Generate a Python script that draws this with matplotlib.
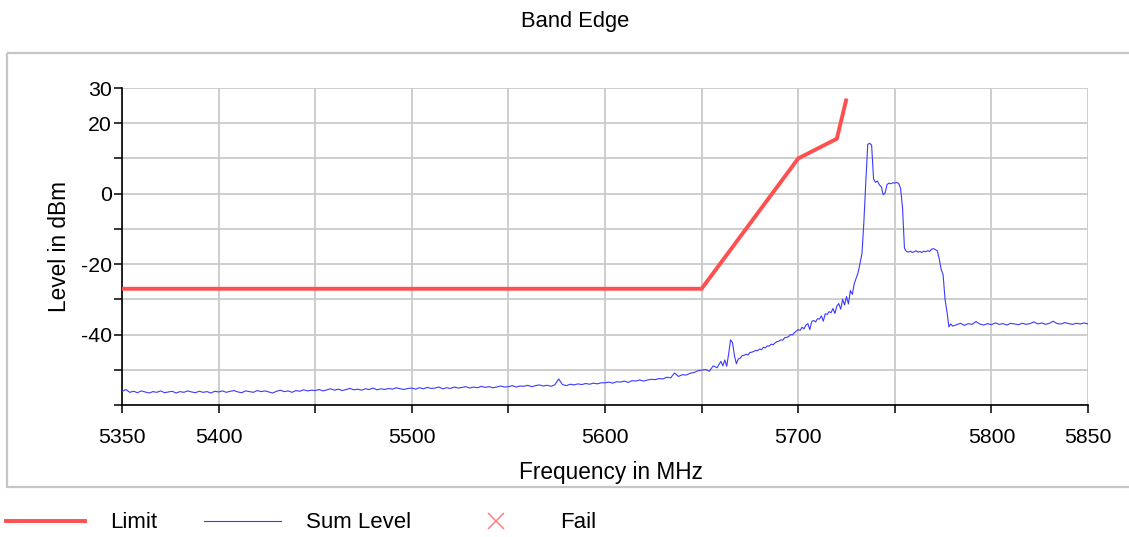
import numpy as np
import matplotlib
matplotlib.use('Agg')
import matplotlib.pyplot as plt
from matplotlib.patches import Rectangle
from matplotlib.lines import Line2D
from matplotlib.ticker import FixedLocator, FixedFormatter

plt.rcParams['font.family'] = ['Liberation Sans', 'DejaVu Sans']
plt.rcParams['axes.unicode_minus'] = False

# ---------------- data ----------------
limit_freq = [5350, 5650, 5700, 5720, 5725]
limit_level = [-27, -27, 10, 15.6, 27]

# measured sweep (frequency grid of the analyser, MHz)
freq_a = np.arange(5350, 5600, 2)      # 125 points
level_a = [
    -56.2, -55.6, -56.4, -56.1, -56.5, -56.0, -56.3, -56.6, -56.2, -56.4,
    -56.0, -56.5, -56.3, -56.1, -56.6, -56.2, -56.4, -56.0, -56.3, -56.5,
    -56.1, -56.4, -56.2, -56.6, -56.1,
    -56.3, -56.0, -56.4, -56.1, -55.9, -56.3, -56.5, -56.0, -56.2, -56.4,
    -55.9, -56.2, -56.0, -56.3, -56.6, -56.1, -55.8, -56.2, -56.0, -56.4,
    -55.9, -56.1, -55.7, -56.0, -55.8,
    -55.9, -55.6, -56.0, -55.7, -55.4, -55.8, -55.5, -55.9, -55.6, -55.3,
    -55.7, -55.5, -55.8, -55.4, -55.6, -55.2, -55.7, -55.4, -55.6, -55.3,
    -55.5, -55.1, -55.4, -55.6, -55.3,
    -55.2, -55.5, -55.1, -55.4, -55.0, -55.3, -55.2, -54.9, -55.4, -55.1,
    -55.3, -54.9, -55.2, -55.0, -54.8, -55.2, -54.9, -55.1, -54.7, -55.0,
    -54.8, -55.1, -54.9, -54.6, -54.9,
    -54.8, -54.5, -54.9, -54.6, -54.7, -54.4, -54.8, -54.5, -54.3, -54.6,
    -54.4, -54.7, -54.3, -52.6, -54.2, -54.5, -54.1, -54.3, -54.0, -54.2,
    -53.9, -54.1, -53.8, -54.0, -53.7,
]
freq_b = np.arange(5600, 5660, 2)      # 30 points
level_b = [
    -53.7, -53.5, -53.8, -53.4, -53.5, -53.2, -53.6, -53.1, -53.2, -52.9,
    -53.2, -52.9, -52.7, -52.8, -52.5, -52.6, -52.1, -52.3, -50.9, -51.9,
    -51.4, -51.5, -51.0, -50.8, -50.3, -50.1, -49.9, -50.4, -48.9, -49.4,
]
freq_c = np.arange(5660, 5733, 1)      # 73 points
level_c = [
    -47.6, -48.9, -47.2, -49.0, -45.5, -41.5, -42.3, -46.0, -48.3, -46.9,
    -46.7, -46.0, -45.9, -45.6, -45.8, -45.1, -45.0, -44.8, -44.5, -44.6,
    -44.1, -44.3, -43.6, -43.8, -43.2, -43.3, -42.7, -42.9, -42.4, -42.0,
    -41.9, -41.5, -41.6, -40.9, -40.8, -40.6, -40.0, -40.1, -39.5, -39.0,
    -38.6, -38.8, -37.9, -38.4, -37.3, -36.9, -38.6, -36.3, -36.0, -36.4,
    -35.5, -35.6, -34.7, -36.2, -34.1, -34.3, -33.5, -33.8, -32.6, -34.0,
    -31.9, -31.2, -32.8, -30.0, -31.6, -29.2, -31.3, -27.5, -28.6, -25.6,
    -24.0, -22.4, -19.8,
]
freq_d = np.arange(5733, 5781, 1)      # 48 points
level_d = [
    -17.0, -8.0, 3.5, 14.0, 14.3, 13.8, 4.2, 3.2, 3.6, 2.5,
    2.0, -0.3, 0.2, 2.6, 3.0, 2.8, 3.1, 3.0, 3.2, 2.9,
    1.5, -4.0, -15.5, -16.4, -16.6, -16.3, -16.7, -16.5, -16.2, -16.6,
    -16.4, -16.7, -16.3, -16.5, -16.2, -16.4, -15.8, -15.6, -15.9, -16.2,
    -18.5, -21.5, -23.0, -30.0, -33.5, -37.8, -37.0, -37.6,
]
freq_e = np.arange(5782, 5851, 2)      # 35 points
level_e = [
    -37.2, -36.8, -37.4, -36.9, -37.1, -36.3, -37.0, -37.3, -36.9, -37.2,
    -36.7, -37.1, -36.9, -37.3, -36.8, -37.0, -37.2, -36.8, -37.1, -36.9,
    -36.4, -37.0, -36.7, -37.1, -36.8, -36.2, -36.9, -37.0, -36.6, -36.9,
    -37.1, -36.8, -37.0, -36.7, -37.0,
]
sum_freq = np.concatenate([freq_a, freq_b, freq_c, freq_d, freq_e])
sum_level = np.concatenate([level_a, level_b, level_c, level_d, level_e])

x_ticks = [5350, 5400, 5450, 5500, 5550, 5600, 5650, 5700, 5750, 5800, 5850]
x_labels = ['5350', '5400', '', '5500', '', '5600', '', '5700', '', '5800', '5850']
y_ticks = [-60, -50, -40, -30, -20, -10, 0, 10, 20, 30]
y_labels = ['', '', '-40', '', '-20', '', '0', '', '20', '30']

# ---------------- figure ----------------
W, H = 1129, 537
fig = plt.figure(figsize=(W / 100, H / 100), dpi=100)

# overlay in pixel coordinates for frame + legend
ov = fig.add_axes([0, 0, 1, 1], zorder=0)
ov.set_xlim(0, W)
ov.set_ylim(H, 0)
ov.axis('off')
ov.add_patch(Rectangle((7, 53), 1140, 434, fill=False, edgecolor='#c6c6c6', lw=1.6))

ax = fig.add_axes([122 / W, 1 - 405 / H, 966 / W, 317 / H], zorder=1)
ax.patch.set_alpha(0)

ax.plot(sum_freq, sum_level, color='#3b3bff', lw=0.8, zorder=3)
ax.plot(limit_freq, limit_level, color='#ff4f4f', lw=2.8, zorder=4,
        solid_capstyle='butt', solid_joinstyle='miter')

ax.set_xlim(5350, 5850)
ax.set_ylim(-60, 30)
ax.xaxis.set_major_locator(FixedLocator(x_ticks))
ax.xaxis.set_major_formatter(FixedFormatter(x_labels))
ax.yaxis.set_major_locator(FixedLocator(y_ticks))
ax.yaxis.set_major_formatter(FixedFormatter(y_labels))
ax.grid(True, color='#cacaca', lw=1.3, zorder=1)
ax.set_axisbelow(True)
for s in ['top', 'right']:
    ax.spines[s].set_visible(False)
for s in ['left', 'bottom']:
    ax.spines[s].set_color('black')
    ax.spines[s].set_linewidth(1.2)
ax.tick_params(axis='x', direction='out', length=5.5, width=1.1, pad=11,
               labelsize=15.3, colors='black')
ax.tick_params(axis='y', direction='out', length=5.5, width=1.1, pad=2,
               labelsize=15.3, colors='black')

fig.text(575 / W, 1 - 21 / H, 'Band Edge', ha='center', va='center', fontsize=15.8)
fig.text(611 / W, 1 - 472 / H, 'Frequency in MHz', ha='center', va='center', fontsize=16.3)
fig.text(59 / W, 1 - 246 / H, 'Level in dBm', ha='center', va='center',
         rotation=90, fontsize=16.3)

# legend
ov.add_line(Line2D([6, 85], [521, 521], color='#ff4f4f', lw=2.8))
ov.text(110, 523, 'Limit', ha='left', va='center', fontsize=16)
ov.add_line(Line2D([204, 281], [521, 521], color='#3b3bff', lw=0.8))
ov.text(306, 523, 'Sum Level', ha='left', va='center', fontsize=16)
ov.add_line(Line2D([496], [521], marker='x', color='#ff8080', markersize=11,
                   mew=1.1, ls='none'))
ov.text(560, 523, 'Fail', ha='left', va='center', fontsize=16)

fig.savefig('out.png', dpi=100)
